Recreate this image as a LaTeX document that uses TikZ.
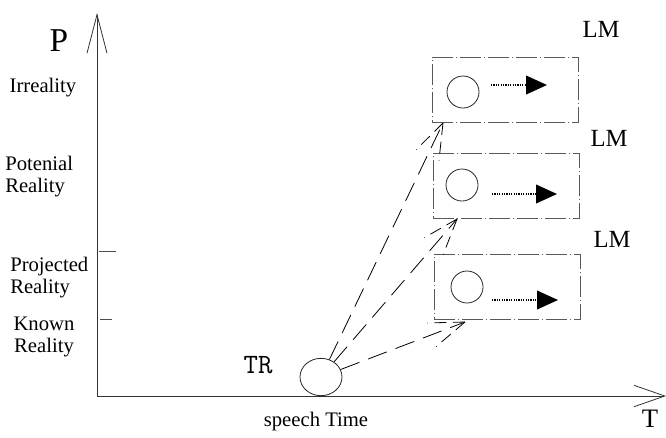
\documentclass[tikz,border=0pt]{standalone}
\usepackage{fontspec}
\setmainfont{Liberation Serif}
\usetikzlibrary{arrows.meta,shapes.geometric,decorations.markings}
\begin{document}
\begin{tikzpicture}[x=0.75pt,y=-0.75pt,
  axis/.style={line width=0.6pt, draw=black!80},
  lbl/.style={font=\fontsize{15.5}{16.5}\selectfont, inner sep=0pt},
  big/.style={font=\fontsize{18.5}{20}\selectfont, inner sep=0pt},
  lmbox/.style={draw=black!65, line width=0.6pt, dash pattern=on 16pt off 2pt on 1pt off 2pt,
    minimum width=109.5pt, minimum height=48.75pt, inner sep=0pt},
  lmcirc/.style={circle, draw=black!85, line width=0.6pt, minimum size=24pt, inner sep=0pt},
  motion/.style={line width=1.4pt, dash pattern=on 0.9pt off 0.9pt,
    -{Triangle[length=15.75pt,width=14pt,sep=0pt]}},
  reach/.style={line width=0.6pt, draw=black, dash pattern=on 15pt off 7pt,
    postaction={decorate}, decoration={markings, mark=at position 1 with {
      \draw[line width=0.6pt, dash pattern=on 9pt off 5pt] (0,0) -- (-26.8pt,9.5pt);
      \draw[line width=0.6pt, dash pattern=on 9pt off 5pt] (0,0) -- (-26.8pt,-9.5pt);}}},
  tick/.style={line width=0.6pt, draw=black!70}
]
\useasboundingbox (0,0) rectangle (666,437);

% axes
\coordinate (o) at (97,396);
\coordinate (ytip) at (97,13);
\coordinate (xtip) at (666,396);
\draw[axis, -{Straight Barb[length=29pt,width=15pt,line width=0.6pt]}] (o) -- (ytip);
\draw[axis, -{Straight Barb[length=23pt,width=16pt,line width=0.6pt]}] (o) -- (xtip);
\node[inner sep=0pt, font=\fontsize{25}{27}\selectfont] (P) at (59,41) {P};
\node[inner sep=0pt, font=\fontsize{20}{22}\selectfont] (T) at (650,419) {T};

% ticks
\coordinate (t1a) at (99,251); \coordinate (t1b) at (116,251);
\coordinate (t2a) at (100,319); \coordinate (t2b) at (112,319);
\draw[tick] (t1a) -- (t1b);
\draw[tick] (t2a) -- (t2b);

% y labels
\node[lbl] (irr) at (43,88) {Irreality};
\node[lbl, align=left, anchor=west] (pot) at (5,177) {Potenial\\Reality};
\node[lbl, align=left, anchor=west] (proj) at (10,278) {Projected\\Reality};
\node[lbl, align=center] (known) at (44,337) {Known\\Reality};

% x label
\node[lbl] (st) at (316,422) {speech Time};

% TR
\node[ellipse, draw=black!85, line width=0.6pt, minimum width=31.5pt, minimum height=28pt, inner sep=0pt] (tr) at (321,377) {};
\node[inner sep=0pt, font=\ttfamily\fontsize{21}{22}\selectfont] (trl) at (258,365) {TR};

% LM boxes
\node[lmbox] (b1) at (505,89.5) {};
\node[lmbox] (b2) at (506,185.5) {};
\node[lmbox] (b3) at (507,286.5) {};
\node[lmcirc] (c1) at (463,92) {};
\node[lmcirc] (c2) at (462,185) {};
\node[lmcirc] (c3) at (467,287) {};
\node[big] (lm1) at (601,29) {LM};
\node[big] (lm2) at (609,138) {LM};
\node[big] (lm3) at (612,239) {LM};

% motion arrows
\coordinate (m1a) at (491,85); \coordinate (m1b) at (547,85);
\coordinate (m2a) at (492,194); \coordinate (m2b) at (557,194);
\coordinate (m3a) at (492,300); \coordinate (m3b) at (558,300);
\draw[motion] (m1a) -- (m1b);
\draw[motion] (m2a) -- (m2b);
\draw[motion] (m3a) -- (m3b);

% reach arrows
\coordinate (r1) at (443,123);
\coordinate (r2) at (457,219);
\coordinate (r3) at (465,322);
\draw[reach] (tr) -- (r1);
\draw[reach] (tr) -- (r2);
\draw[reach] (tr) -- (r3);
\end{tikzpicture}
\end{document}
